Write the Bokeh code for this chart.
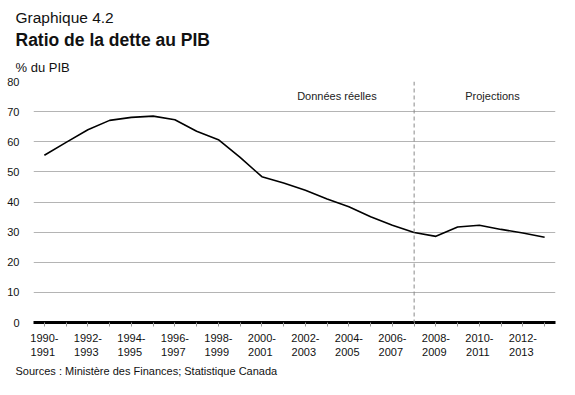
from bokeh.plotting import figure
from bokeh.models import Range1d, FixedTicker, Span, Title
from bokeh.embed import file_html
from bokeh.resources import INLINE

# ---- data ----
periods = [
    "1990-1991", "1991-1992", "1992-1993", "1993-1994", "1994-1995", "1995-1996",
    "1996-1997", "1997-1998", "1998-1999", "1999-2000", "2000-2001", "2001-2002",
    "2002-2003", "2003-2004", "2004-2005", "2005-2006", "2006-2007", "2007-2008",
    "2008-2009", "2009-2010", "2010-2011", "2011-2012", "2012-2013", "2013-2014",
]
debt_ratio = [55.5, 59.8, 64.0, 67.1, 68.1, 68.5, 67.3, 63.5, 60.7, 54.8, 48.4, 46.3,
              43.9, 41.0, 38.4, 35.1, 32.3, 29.9, 28.6, 31.7, 32.3, 30.9, 29.7, 28.3]
y_ticks = [0, 10, 20, 30, 40, 50, 60, 70, 80]
last_actual = "2007-2008"
section_labels = ["Données réelles", "Projections"]
section_x = [13.45, 20.6]
section_y = [75.2, 75.2]
title_small = "Graphique 4.2"
title_main = "Ratio de la dette au PIB"
y_unit = "% du PIB"
source_note = "Sources : Ministère des Finances; Statistique Canada"

FONT = "Liberation Sans"
W, H = 559, 379
FL, FR, FT, FB = 33, 555, 81, 324   # frame edges in canvas pixels
n = len(periods)

p = figure(width=W, height=H, output_backend="svg", toolbar_location=None,
           x_range=Range1d(-0.5, n - 0.5), y_range=Range1d(0, 80),
           min_border_left=FL, min_border_right=W - FR,
           min_border_top=FT, min_border_bottom=H - FB)
p.outline_line_color = None
p.background_fill_color = "white"
p.border_fill_color = "white"

xs = list(range(n))
p.line(xs, debt_ratio, line_color="black", line_width=1.6)

# dashed separator between actual data and projections
p.add_layout(Span(location=periods.index(last_actual), dimension="height",
                  line_color="#8a8a8a", line_dash="4 3", line_width=1))

p.text(section_x, section_y, text=section_labels, text_font_size="11px",
       text_align="center", text_baseline="middle", text_color="#222222",
       text_font={"value": FONT})

# x axis
xa = p.xaxis[0]
xa.ticker = FixedTicker(ticks=xs)
xa.major_label_overrides = {i: (lab[:5] + "\n" + lab[5:] + " " if i % 2 == 0 else "")
                            for i, lab in enumerate(periods)}
xa.axis_line_color = "black"
xa.axis_line_width = 3
xa.major_tick_out = 4
xa.major_tick_in = 0
xa.major_tick_line_color = "#999999"
xa.minor_tick_line_color = None
xa.major_label_standoff = 5
xa.major_label_text_font = FONT
xa.major_label_text_font_size = "11px"
xa.major_label_text_color = "#111111"

# y axis
ya = p.yaxis[0]
ya.ticker = FixedTicker(ticks=y_ticks)
ya.axis_line_color = None
ya.major_tick_line_color = None
ya.minor_tick_line_color = None
ya.major_label_standoff = 8
ya.major_label_text_font = FONT
ya.major_label_text_font_size = "11px"
ya.major_label_text_color = "#111111"

p.xgrid.grid_line_color = None
p.ygrid.ticker = FixedTicker(ticks=y_ticks[1:])
p.ygrid.grid_line_color = "#b4b4b4"
p.ygrid.grid_line_width = 1

# titles (stacked outward from the frame)
p.add_layout(Title(text=y_unit, align="left", offset=-18, standoff=14,
                   text_font=FONT, text_font_size="13px", text_font_style="normal",
                   text_color="#111111"), "above")
p.add_layout(Title(text=title_main, align="left", offset=-18, standoff=1.5,
                   text_font=FONT, text_font_size="17.5px", text_font_style="bold",
                   text_color="#111111"), "above")
p.title.text = title_small
p.title.align = "left"
p.title.offset = -18
p.title.standoff = 1.5
p.title.text_font = FONT
p.title.text_font_size = "15.5px"
p.title.text_font_style = "normal"
p.title.text_color = "#111111"

p.add_layout(Title(text=source_note, align="left", offset=-18, standoff=5,
                   text_font=FONT, text_font_size="11px", text_font_style="normal",
                   text_color="#111111"), "below")

open("out.html", "w").write(file_html(p, INLINE))
